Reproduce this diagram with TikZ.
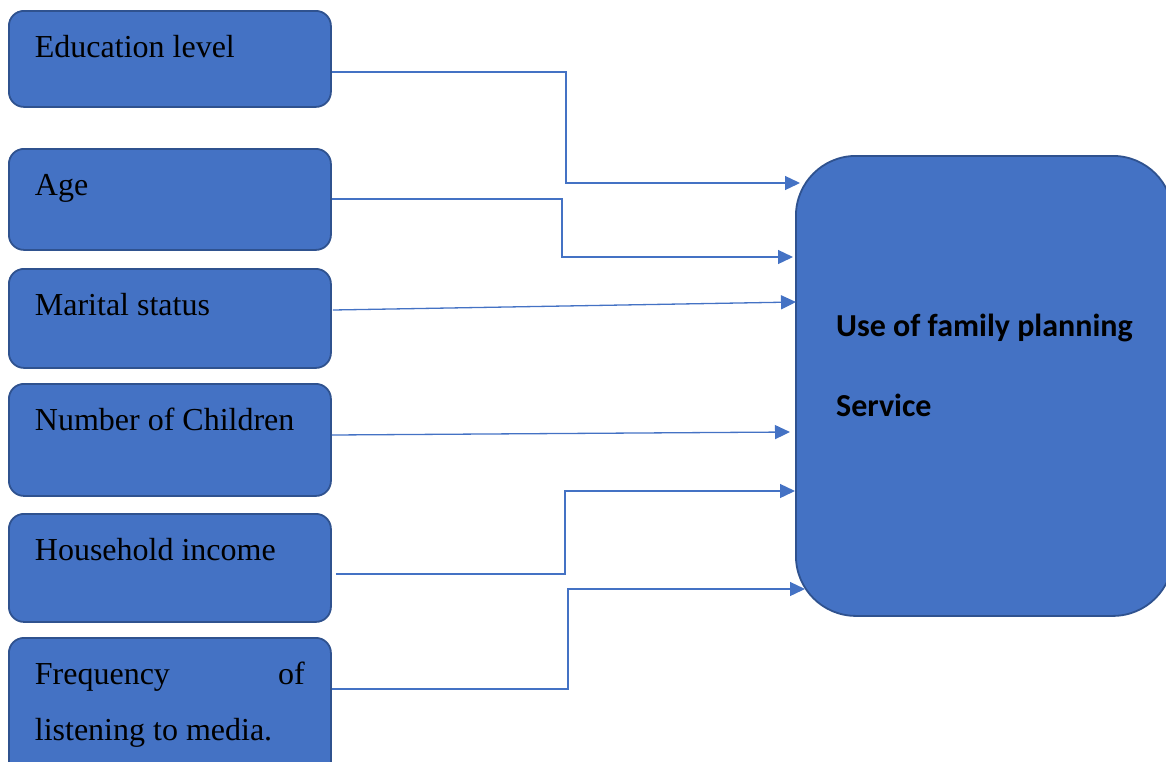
\documentclass[tikz,border=0pt]{standalone}
\usepackage{fontspec}
\setmainfont{Liberation Serif}
\newfontfamily\calib{Carlito}
\usetikzlibrary{positioning,arrows.meta,calc}
\definecolor{boxblue}{RGB}{68,114,196}
\definecolor{boxline}{RGB}{47,82,143}
\definecolor{linkblue}{RGB}{68,114,196}
\hyphenpenalty=10000
\exhyphenpenalty=10000
\tikzset{
  blockbase/.style = {rectangle, draw=boxline, fill=boxblue, line width=1.8pt,
                      anchor=north west, inner ysep=0pt},
  factor/.style  = {blockbase, rounded corners=15pt,
                    minimum width=322pt, inner xsep=26pt,
                    text width=270pt, text height=47pt, align=justify,
                    font=\fontsize{32}{56}\selectfont},
  outcome/.style = {blockbase, rounded corners=60pt, inner xsep=40pt,
                    minimum width=377pt, text height=261pt,
                    text depth=199pt, align=left,
                    font=\calib\bfseries\fontsize{32}{80}\selectfont},
  arr/.style     = {-{Triangle[length=15pt,width=14pt]}, draw=linkblue,
                    line width=1.3pt}
}
\begin{document}
\begin{tikzpicture}[x=1pt,y=-1pt]
    \useasboundingbox (0,0) rectangle (1166,761);
    \clip (0,0) rectangle (1166,761);
    \node[factor,text depth=49pt] (edu) at (8,10) {Education level};
    \node[factor,text depth=54pt] (age) at (8,148) {Age};
    \node[factor,text depth=52pt] (mar) at (8,268) {Marital status};
    \node[factor,text depth=65pt] (num) at (8,383) {Number of Children};
    \node[factor,text depth=61pt] (inc) at (8,513) {Household income};
    \node[factor,text depth=98pt] (med) at (8,637) {Frequency of listening to media.};
    \node[outcome] (use) at (795,155) {Use of family planning\\Service};
    \draw[arr] (edu.east |- 0,72) -| (566,183) -- ($(use.west |- 0,183)+(5,0)$);
    \draw[arr] (age.east |- 0,199) -| (562,257) -- ($(use.west |- 0,257)+(-2,0)$);
    \draw[arr] ($(mar.east |- 0,310)+(1,0)$) -- ($(use.west |- 0,302)+(1,0)$);
    \draw[arr] (num.east |- 0,435) -- ($(use.west |- 0,432)+(-5,0)$);
    \draw[arr] ($(inc.east |- 0,574)+(4,0)$) -| (565,491) -- (use.west |- 0,491);
    \draw[arr] (med.east |- 0,689) -| (568,589) -- ($(use.west |- 0,589)+(10,0)$);
  \end{tikzpicture}
\end{document}
